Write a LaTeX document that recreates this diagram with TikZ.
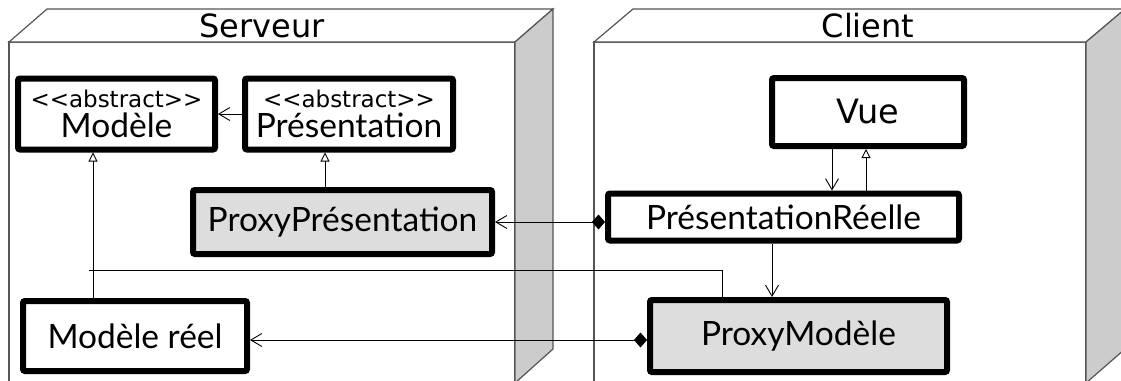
\documentclass[tikz,border=0pt]{standalone}
\usepackage{fontspec}
\setmainfont{Lato}
\newfontfamily\dejavu{DejaVu Sans}
\usetikzlibrary{calc,arrows.meta}
\definecolor{proxygray}{HTML}{DDDDDD}
\definecolor{sidegray}{HTML}{CCCCCC}
\definecolor{edgegray}{HTML}{555555}
\tikzset{
	classbox/.style={draw,rectangle,line width=6pt,rounded corners=2pt,inner sep=0pt,align=center,fill=white,font=\fontsize{33.5}{30}\selectfont},
	proxybox/.style={classbox,fill=proxygray},
	title/.style={inner sep=0pt,font=\dejavu\fontsize{32}{34}\selectfont},
	link/.style={line width=0.9pt},
	assoc/.style={link,arrows={-Straight Barb[length=11pt,width=13pt]}},
	inherit/.style={link,arrows={-Triangle[open,length=9pt,width=9pt,fill=white]}},
	composed/.style={link,arrows={Diamond[length=13pt,width=15pt]-Straight Barb[length=11pt,width=13pt]}},
	face/.style={draw=edgegray,line width=1.2pt,fill=white},
	side/.style={draw=edgegray,line width=1.2pt,fill=sidegray}
	}
\newcommand{\stereotype}{{\dejavu\fontsize{23}{25}\selectfont <{}<abstract>{}>}}

\begin{document}
\begin{tikzpicture}[x=1pt,y=-1pt]
          \useasboundingbox (0,0) rectangle (1121,380);
          \clip (0,0) rectangle (1121,380);

          % deployment nodes
          \draw[face] (9,42) rectangle (515,383);
          \draw[face] (9,42) -- (47,9) -- (553,9) -- (515,42) -- cycle;
          \draw[side] (515,42) -- (553,9) -- (553,349) -- (515,383) -- cycle;
          \draw[face] (594,42) rectangle (1086,383);
          \draw[face] (594,42) -- (633,9) -- (1125,9) -- (1086,42) -- cycle;
          \draw[side] (1086,42) -- (1125,9) -- (1125,349) -- (1086,383) -- cycle;
          \node[title] (serveur) at (262,26) {Serveur};
          \node[title] (client) at (868,26) {Client};

          % classes
          \node[classbox,minimum width=197,minimum height=71] (modele) at (116.5,114) {\stereotype\\Modèle};
          \node[classbox,minimum width=208,minimum height=71] (presentation) at (349,114) {\stereotype\\Présentation};
          \node[proxybox,minimum width=299,minimum height=64] (proxypres) at (342.5,222) {ProxyPrésentation};
          \node[classbox,minimum width=224,minimum height=70] (modreel) at (135,336) {Modèle réel};
          \node[classbox,minimum width=192,minimum height=68] (vue) at (868,112) {\dejavu Vue};
          \node[classbox,minimum width=351,minimum height=47] (presreelle) at (783.5,217) {PrésentationRéelle};
          \node[proxybox,minimum width=297,minimum height=72] (proxymod) at (798.5,336) {ProxyModèle};

          % guides for the connectors
          \coordinate (xa) at (93,0);
          \coordinate (xb) at (325,0);
          \coordinate (xd) at (722,0);
          \coordinate (xe) at (832,0);
          \coordinate (xf) at (866,0);
          \coordinate (xh) at (772,0);
          \coordinate (yg) at (0,222);
          \coordinate (yi) at (0,340);
          \coordinate (joint) at (89,270);

          \draw[assoc] (presentation) -- (modele);
          \draw[inherit] (proxypres.north -| xb) -- (presentation.south -| xb);
          \draw[inherit] (modreel.north -| xa) -- (modele.south -| xa);
          \draw[link] (joint) -- (joint -| xd) -- (proxymod.north -| xd);
          \draw[assoc] (vue.south -| xe) -- (presreelle.north -| xe);
          \draw[inherit] (presreelle.north -| xf) -- (vue.south -| xf);
          \draw[assoc] (presreelle.south -| xh) -- (proxymod.north -| xh);
          \draw[composed] (presreelle.west |- yg) -- (proxypres.east |- yg);
          \draw[composed] (proxymod.west |- yi) -- (modreel.east |- yi);
        \end{tikzpicture}
\end{document}
